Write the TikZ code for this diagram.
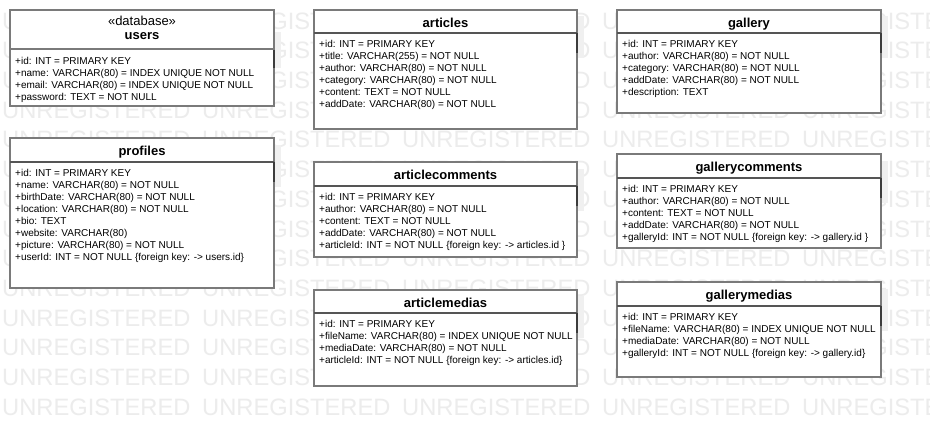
\documentclass[tikz,border=0pt]{standalone}
\usepackage{fontspec}
\setmainfont{Liberation Sans}
\definecolor{wmcol}{RGB}{236,236,236}
\definecolor{bordercol}{RGB}{122,122,122}
\definecolor{sepcol}{RGB}{85,85,85}
\definecolor{patchcol}{RGB}{240,240,240}
\definecolor{rlinecol}{RGB}{60,60,60}
\tikzset{
  classbox/.style={draw=bordercol, line width=2pt, fill=white, inner sep=0pt, outer sep=0pt, anchor=north west},
  sepline/.style={draw=sepcol, line width=1.2pt},
  titlest/.style={font=\fontsize{13}{15}\selectfont\bfseries, inner sep=0pt, anchor=base},
  stereost/.style={font=\fontsize{13}{15}\selectfont, inner sep=0pt, anchor=base},
  attrst/.style={font=\fontsize{10}{12}\selectfont, inner sep=0pt, anchor=base west},
  wm/.style={font=\fontsize{23.7}{26}\selectfont, text=wmcol, inner sep=0pt, anchor=west},
  patch/.style={fill=patchcol},
  rline/.style={draw=rlinecol, line width=1.4pt}
}
% #1 name, #2 L, #3 R, #4 T, #5 S, #6 B, #7 title, #8 attribute lines
\newcommand\umlclass[8]{%
  \fill[patch] ({#3+1},{#5-17}) rectangle ({#3+7},{#5+25});
  \node[classbox, minimum width={#3pt-#2pt}, minimum height={#6pt-#4pt}] (#1) at (#2,#4) {};
  \coordinate (#1s) at (#2,#5);
  \draw[sepline] (#1s) -- (#1s -| #1.east);
  \draw[rline] (#3,#5) -- (#3,{#5+20});
  \node[titlest] (#1-t) at ({(#2+#3)/2},{#4+17.3}) {#7};
  \foreach \attrline [count=\i from 0] in {#8}
    \node[attrst] (#1-a\i) at ({#2+5},{#5+14+12*\i}) {\attrline};
}
\begin{document}
\begin{tikzpicture}[x=1pt,y=-1pt]
\useasboundingbox[fill=white] (0,0) rectangle (930,426);
% watermark
\foreach \r in {0,...,13}
  \foreach \c in {0,...,4}
    \node[wm] (wm-\r-\c) at ({2+200*\c},{21+29.7*\r}) {UNREGISTERED};

% users (with stereotype)
\fill[patch] (275,32) rectangle (281,68);
\node[classbox, minimum width=264pt, minimum height=96pt] (users) at (10,10) {};
\coordinate (userss) at (10,49);
\draw[draw=bordercol, line width=2.6pt] (userss) -- (userss -| users.east);
\draw[rline] (274,50) -- (274,68);
\node[stereost] (users-st) at (142,25.7) {«database»};
\node[titlest] (users-t) at (142,39.5) {users};
\foreach \attrline [count=\i from 0] in {+id: INT = PRIMARY KEY, +name: VARCHAR(80) = INDEX UNIQUE NOT NULL, +email: VARCHAR(80) = INDEX UNIQUE NOT NULL, +password: TEXT = NOT NULL}
  \node[attrst] (users-a\i) at (15,{64+12*\i}) {\attrline};

\umlclass{articles}{314}{577}{10}{33}{129}{articles}{+id: INT = PRIMARY KEY, +title: VARCHAR(255) = NOT NULL, +author: VARCHAR(80) = NOT NULL, +category: VARCHAR(80) = NOT NULL, +content: TEXT = NOT NULL, +addDate: VARCHAR(80) = NOT NULL}

\umlclass{gallery}{617}{881}{10}{33}{113}{gallery}{+id: INT = PRIMARY KEY, +author: VARCHAR(80) = NOT NULL, +category: VARCHAR(80) = NOT NULL, +addDate: VARCHAR(80) = NOT NULL, +description: TEXT}

\umlclass{profiles}{10}{274}{138}{162}{288}{profiles}{+id: INT = PRIMARY KEY, +name: VARCHAR(80) = NOT NULL, +birthDate: VARCHAR(80) = NOT NULL, +location: VARCHAR(80) = NOT NULL, +bio: TEXT, +website: VARCHAR(80), +picture: VARCHAR(80) = NOT NULL, +userId: INT = NOT NULL \{foreign key: -> users.id\}}

\umlclass{articlecomments}{314}{577}{162}{186}{257}{articlecomments}{+id: INT = PRIMARY KEY, +author: VARCHAR(80) = NOT NULL, +content: TEXT = NOT NULL, +addDate: VARCHAR(80) = NOT NULL, +articleId: INT = NOT NULL \{foreign key: -> articles.id \}}

\umlclass{gallerycomments}{617}{881}{154}{178}{248}{gallerycomments}{+id: INT = PRIMARY KEY, +author: VARCHAR(80) = NOT NULL, +content: TEXT = NOT NULL, +addDate: VARCHAR(80) = NOT NULL, +galleryId: INT = NOT NULL \{foreign key: -> gallery.id \}}

\umlclass{articlemedias}{314}{577}{290}{313}{386}{articlemedias}{+id: INT = PRIMARY KEY, +fileName: VARCHAR(80) = INDEX UNIQUE NOT NULL, +mediaDate: VARCHAR(80) = NOT NULL, +articleId: INT = NOT NULL \{foreign key: -> articles.id\}}

\umlclass{gallerymedias}{617}{881}{282}{306}{377}{gallerymedias}{+id: INT = PRIMARY KEY, +fileName: VARCHAR(80) = INDEX UNIQUE NOT NULL, +mediaDate: VARCHAR(80) = NOT NULL, +galleryId: INT = NOT NULL \{foreign key: -> gallery.id\}}
\end{tikzpicture}
\end{document}
